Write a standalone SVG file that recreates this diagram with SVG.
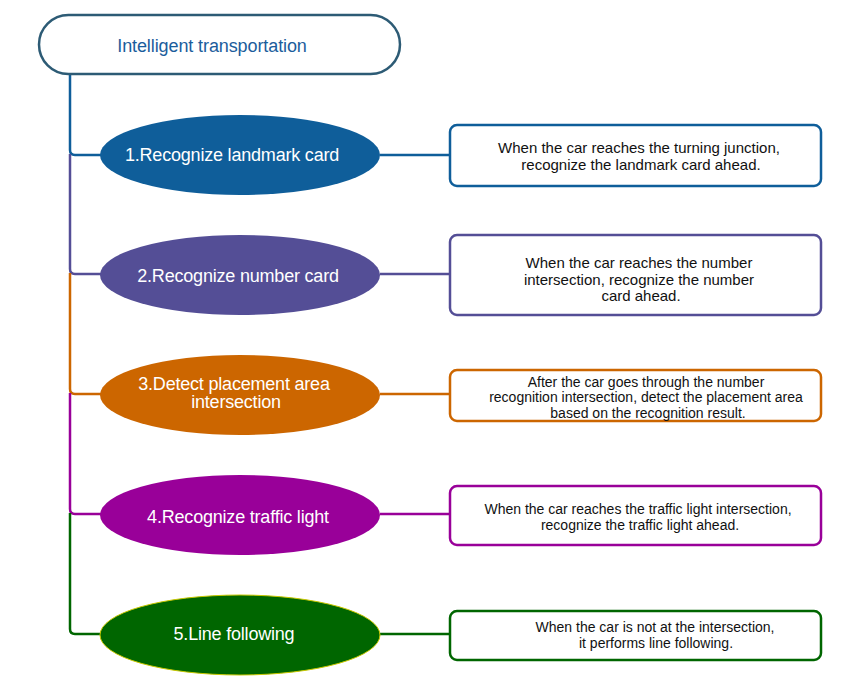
<svg xmlns="http://www.w3.org/2000/svg" width="861" height="696" viewBox="0 0 861 696">
  <style>
    .root-box { fill: #ffffff; stroke: #2d5b75; stroke-width: 2.5; }
    .title { font-family: "Liberation Sans", Arial, sans-serif; font-size: 18px; fill: #1b5d9c; text-anchor: middle; letter-spacing: -0.1px; }
    .step { font-family: "Liberation Sans", Arial, sans-serif; font-size: 18px; fill: #ffffff; text-anchor: middle; letter-spacing: -0.2px; }
    .desc { font-family: "Liberation Sans", Arial, sans-serif; font-size: 15px; fill: #111111; text-anchor: middle; }
    .desc-s { font-family: "Liberation Sans", Arial, sans-serif; font-size: 14px; fill: #111111; text-anchor: middle; }
    .card { fill: #ffffff; stroke-width: 2.5; }
    .link { fill: none; stroke-width: 2.5; }
  </style>

  <!-- connectors: trunk segments and branches -->
  <g id="connectors">
    <path class="link" stroke="#0f5e9a" d="M70 74 V150 Q70 155 75 155 H102 M380 155 H450"/>
    <path class="link" stroke="#544e96" d="M70 154 V269 Q70 274 75 274 H102 M380 274 H450"/>
    <path class="link" stroke="#cc6600" d="M70 273 V389 Q70 394 75 394 H102 M380 394 H450"/>
    <path class="link" stroke="#990099" d="M70 393 V509 Q70 514 75 514 H102 M380 514 H450"/>
    <path class="link" stroke="#006600" d="M70 513 V629 Q70 634 75 634 H102 M380 634 H450"/>
  </g>

  <!-- root -->
  <g id="root">
    <rect class="root-box" x="39" y="15" width="361" height="59" rx="29.5"/>
    <text class="title" x="212" y="52">Intelligent transportation</text>
  </g>

  <!-- step 1 -->
  <g id="step1">
    <ellipse cx="240" cy="155" rx="140" ry="40" fill="#0f5e9a"/>
    <text class="step" x="232" y="161">1.Recognize landmark card</text>
  </g>
  <g id="desc1">
    <rect class="card" stroke="#0f5e9a" x="450" y="125" width="371" height="61" rx="7"/>
    <text class="desc" x="639" y="153">When the car reaches the turning junction,</text>
    <text class="desc" x="641" y="170">recognize the landmark card ahead.</text>
  </g>

  <!-- step 2 -->
  <g id="step2">
    <ellipse cx="240" cy="275" rx="140" ry="40" fill="#544e96"/>
    <text class="step" x="238" y="282">2.Recognize number card</text>
  </g>
  <g id="desc2">
    <rect class="card" stroke="#544e96" x="450" y="235" width="371" height="80" rx="7"/>
    <text class="desc" x="639" y="268">When the car reaches the number</text>
    <text class="desc" x="639" y="285">intersection, recognize the number</text>
    <text class="desc" x="641" y="301">card ahead.</text>
  </g>

  <!-- step 3 -->
  <g id="step3">
    <ellipse cx="240" cy="395" rx="140" ry="40" fill="#cc6600"/>
    <text class="step" x="234" y="390">3.Detect placement area</text>
    <text class="step" x="236" y="408">intersection</text>
  </g>
  <g id="desc3">
    <rect class="card" stroke="#cc6600" x="450" y="370" width="371" height="51" rx="7"/>
    <text class="desc-s" x="646" y="387">After the car goes through the number</text>
    <text class="desc-s" x="646" y="402">recognition intersection, detect the placement area</text>
    <text class="desc-s" x="648" y="418">based on the recognition result.</text>
  </g>

  <!-- step 4 -->
  <g id="step4">
    <ellipse cx="240" cy="515" rx="140" ry="40" fill="#990099"/>
    <text class="step" x="238" y="523">4.Recognize traffic light</text>
  </g>
  <g id="desc4">
    <rect class="card" stroke="#990099" x="450" y="486" width="371" height="59" rx="7"/>
    <text class="desc-s" x="638" y="514">When the car reaches the traffic light intersection,</text>
    <text class="desc-s" x="640" y="530">recognize the traffic light ahead.</text>
  </g>

  <!-- step 5 -->
  <g id="step5">
    <ellipse cx="240" cy="635" rx="140" ry="40" fill="#006600" stroke="#c8c800" stroke-width="1"/>
    <text class="step" x="234" y="640">5.Line following</text>
  </g>
  <g id="desc5">
    <rect class="card" stroke="#006600" x="450" y="611" width="371" height="49" rx="7"/>
    <text class="desc-s" x="655" y="632">When the car is not at the intersection,</text>
    <text class="desc-s" x="656" y="648">it performs line following.</text>
  </g>
</svg>
